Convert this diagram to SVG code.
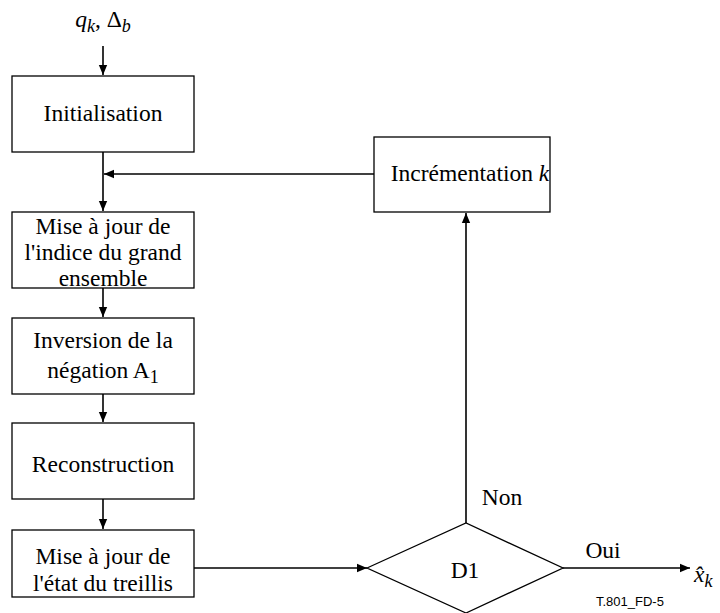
<svg xmlns="http://www.w3.org/2000/svg" width="720" height="613" viewBox="0 0 720 613">
<defs>
<marker id="ah" markerWidth="10" markerHeight="12" refX="12" refY="5" orient="auto" markerUnits="userSpaceOnUse" viewBox="0 0 12 10">
<path d="M0,0 L12,5 L0,10 Z" fill="#000"/>
</marker>
<style>
.box{fill:#fff;stroke:#000;stroke-width:1.3}
.ln{fill:none;stroke:#000;stroke-width:1.6}
</style>
</defs>
<rect width="720" height="613" fill="#fff"/>
<g id="connectors">
<line class="ln" x1="103" y1="46" x2="103" y2="75" marker-end="url(#ah)"/>
<line class="ln" x1="103" y1="152" x2="103" y2="211" marker-end="url(#ah)"/>
<line class="ln" x1="374" y1="174" x2="104" y2="174" marker-end="url(#ah)"/>
<line class="ln" x1="103" y1="288" x2="103" y2="317" marker-end="url(#ah)"/>
<line class="ln" x1="103" y1="394" x2="103" y2="422" marker-end="url(#ah)"/>
<line class="ln" x1="103" y1="499" x2="103" y2="529" marker-end="url(#ah)"/>
<line class="ln" x1="194" y1="568" x2="367" y2="568" marker-end="url(#ah)"/>
<line class="ln" x1="466" y1="523" x2="466" y2="213" marker-end="url(#ah)"/>
<line class="ln" x1="563" y1="568" x2="690" y2="568" marker-end="url(#ah)"/>
</g>
<g font-family="Liberation Serif" font-size="23.5" fill="#000" text-anchor="middle">
<g id="input">
<text x="103" y="27"><tspan font-style="italic">q</tspan><tspan font-style="italic" font-size="18" dy="5">k</tspan><tspan dy="-5">,  Δ</tspan><tspan font-style="italic" font-size="18" dy="5">b</tspan></text>
</g>
<g id="init">
<rect class="box" x="12" y="76" width="182" height="76"/>
<text x="103" y="121">Initialisation</text>
</g>
<g id="maj-indice">
<rect class="box" x="12" y="212" width="182" height="76"/>
<text x="103" y="234">Mise à jour de</text>
<text x="103" y="260">l'indice du grand</text>
<text x="103" y="286">ensemble</text>
</g>
<g id="inversion">
<rect class="box" x="12" y="318" width="182" height="76"/>
<text x="103" y="348">Inversion de la</text>
<text x="103" y="378">négation A<tspan font-size="18" dy="5">1</tspan></text>
</g>
<g id="reconstruction">
<rect class="box" x="12" y="423" width="182" height="76"/>
<text x="103" y="472">Reconstruction</text>
</g>
<g id="maj-etat">
<rect class="box" x="12" y="530" width="182" height="67"/>
<text x="103" y="564">Mise à jour de</text>
<text x="103" y="591">l'état du treillis</text>
</g>
<g id="incrementation">
<rect class="box" x="374" y="137" width="176" height="75"/>
<text x="470" y="181">Incrémentation <tspan font-style="italic">k</tspan></text>
</g>
<g id="d1">
<polygon class="box" points="367,568 466,523 563,568 466,613"/>
<text x="465" y="578">D1</text>
</g>
<g id="labels">
<text x="502" y="505">Non</text>
<text x="603" y="558">Oui</text>
<text x="694" y="582" text-anchor="start" font-style="italic">x̂<tspan font-size="18" dy="5">k</tspan></text>
</g>
</g>
<text x="596" y="606" font-family="Liberation Sans" font-size="13" fill="#000">T.801_FD-5</text>
</svg>
